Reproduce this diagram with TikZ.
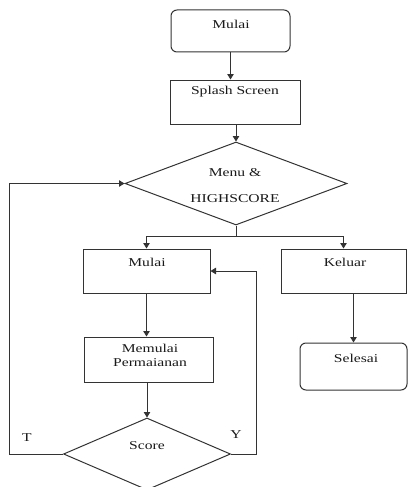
\documentclass[tikz,border=0pt]{standalone}
\usepackage{fontspec}
\setmainfont[FakeStretch=1.3]{Liberation Serif}
\usetikzlibrary{shapes.geometric,arrows.meta}
\tikzset{
  x=1pt, y=-1pt,
  ln/.style={draw=black!80, line width=1pt},
  arr/.style={ln, -{Triangle[length=5.5pt,width=6.5pt]}},
  boxnode/.style={ln, rectangle, inner sep=0pt},
  termnode/.style={ln, rectangle, rounded corners=6pt, inner sep=0pt},
  decnode/.style={ln, diamond, inner sep=0pt},
  txt/.style={font=\fontsize{12}{14}\selectfont, inner sep=0pt, align=center, text=black!90},
}
\begin{document}
\begin{tikzpicture}
\useasboundingbox (0,0) rectangle (408,487);
% shapes
\node[termnode, minimum width=119pt, minimum height=42pt] (start) at (230.5,31) {};
\node[boxnode, minimum width=130pt, minimum height=44pt] (splash) at (235,102) {};
\node[decnode, minimum width=222pt, minimum height=83pt] (menu) at (236,183.5) {};
\node[boxnode, minimum width=127pt, minimum height=44pt] (mulai) at (146.5,271) {};
\node[boxnode, minimum width=125pt, minimum height=44pt] (keluar) at (343.5,271) {};
\node[boxnode, minimum width=129pt, minimum height=45pt] (memulai) at (148.5,359.5) {};
\node[termnode, minimum width=107pt, minimum height=47pt] (selesai) at (353.5,366.5) {};
\node[decnode, minimum width=167pt, minimum height=72pt] (score) at (147,454) {};
% texts
\node[txt] (tstart) at (231,24) {Mulai};
\node[txt] (tsplash) at (235,92) {Splash Screen};
\node[txt] (tmenu1) at (235,173) {Menu \&};
\node[txt] (tmenu2) at (235,199) {HIGHSCORE};
\node[txt] (tmulai) at (147,262) {Mulai};
\node[txt] (tkeluar) at (345,262) {Keluar};
\node[txt] (tmemulai) at (150,355) {Memulai\\Permaianan};
\node[txt] (tselesai) at (356,358) {Selesai};
\node[txt] (tscore) at (147,446) {Score};
\node[txt] (lt) at (27,438) {T};
\node[txt] (ly) at (236,435) {Y};
% connectors
\draw[arr] (start.south) -- (start.south |- splash.north);
\draw[arr] (splash.south -| menu.north) -- (menu.north);
\coordinate (split) at (236,236);
\draw[ln] (menu.south) -- (split);
\draw[arr] (split) -| (mulai.north);
\draw[arr] (split) -| (keluar.north);
\draw[arr] (mulai.south) -- (mulai.south |- memulai.north);
\draw[arr] (memulai.south -| score.north) -- (score.north);
\draw[arr] (selesai.north |- keluar.south) -- (selesai.north);
\coordinate (tl) at (9,454);
\coordinate (yl) at (256,454);
\draw[arr] (score.west) -- (tl) |- (menu.west);
\draw[arr] (score.east) -- (yl) |- (mulai.east);
\end{tikzpicture}
\end{document}
